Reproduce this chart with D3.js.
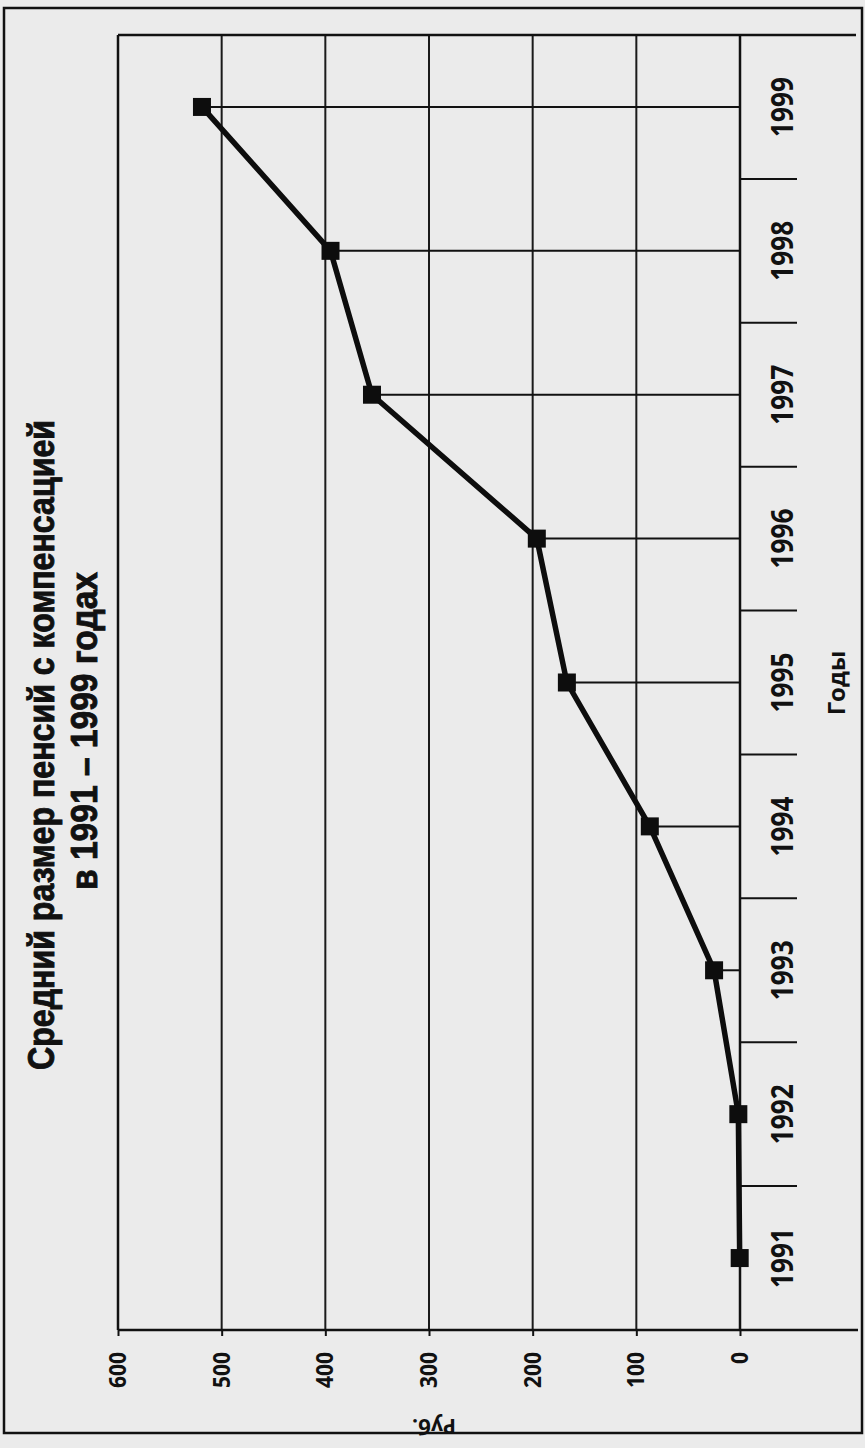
<!DOCTYPE html>
<html>
<head>
<meta charset="utf-8">
<script src="https://cdn.jsdelivr.net/npm/d3@7"></script>
<style>
  body { margin: 0; background: #ebebeb; }
  svg { display: block; }
  .lbl { font-family: "Open Sans", "Noto Sans", sans-serif; font-weight: bold; fill: #111; }
  .ttl { font-family: "Liberation Sans Narrow", "Liberation Sans", Arial, sans-serif; font-weight: bold; fill: #111; stroke: #111; stroke-width: 0.9px; }
</style>
</head>
<body>
<svg id="chart" width="865" height="1448"></svg>
<script>
// data
var years = ["1991","1992","1993","1994","1995","1996","1997","1998","1999"];
var pension = [0.3, 1.6, 25, 87, 167, 196, 355, 395, 519];
var valueTicks = [0, 100, 200, 300, 400, 500, 600];
var gridTicks = [100, 200, 300, 400, 500];
var title1 = "Средний размер пенсий с компенсацией";
var title2 = "в 1991 – 1999 годах";

var W = 865, H = 1448;
var svg = d3.select("#chart");
svg.append("rect").attr("width", W).attr("height", H).attr("fill", "#ebebeb");

// the printed chart is turned a quarter turn counter-clockwise, so draw it upright and rotate
var g = svg.append("g").attr("transform", "translate(0," + H + ") rotate(-90)");

var x = d3.scaleBand().domain(years).range([118, 1413]).padding(0);
var y = d3.scaleLinear().domain([0, 600]).range([740, 118]);
var bw = x.bandwidth();
var x0 = x.range()[0], x1 = x.range()[1];

// outer box
g.append("rect").attr("x", 15).attr("y", 4).attr("width", 1425).attr("height", 858)
  .attr("fill", "none").attr("stroke", "#111").attr("stroke-width", 2.5);

// grid
g.selectAll(".grid").data(gridTicks).enter().append("line")
  .attr("x1", x0).attr("x2", x1)
  .attr("y1", function(d){ return y(d); }).attr("y2", function(d){ return y(d); })
  .attr("stroke", "#1a1a1a").attr("stroke-width", 2);

// frame
g.append("line").attr("x1", x0).attr("x2", x1).attr("y1", y(600)).attr("y2", y(600))
  .attr("stroke", "#111").attr("stroke-width", 2.5);
g.append("line").attr("x1", x0).attr("x2", x0).attr("y1", y(600)).attr("y2", 858)
  .attr("stroke", "#111").attr("stroke-width", 2.5);
g.append("line").attr("x1", x1).attr("x2", x1).attr("y1", y(600)).attr("y2", 856)
  .attr("stroke", "#111").attr("stroke-width", 2.5);
g.append("line").attr("x1", x0).attr("x2", x1).attr("y1", y(0)).attr("y2", y(0))
  .attr("stroke", "#111").attr("stroke-width", 2.5);

// value axis
var ya = g.append("g").attr("transform", "translate(" + x0 + ",0)")
  .call(d3.axisLeft(y).tickValues(valueTicks).tickSize(6).tickPadding(16));
ya.select(".domain").remove();
ya.selectAll("line").attr("stroke", "#111").attr("stroke-width", 2);
ya.selectAll("text").attr("class", "lbl").style("font-size", "23px")
  .attr("textLength", function(d){ return String(d).length * 12; })
  .attr("lengthAdjust", "spacingAndGlyphs");

// year axis: labels in the middle, ticks between years
var xa = g.append("g").attr("transform", "translate(0," + y(0) + ")")
  .call(d3.axisBottom(x).tickSize(0));
xa.select(".domain").remove();
xa.selectAll("text").attr("class", "lbl").style("font-size", "30px")
  .attr("y", 53).attr("dy", 0)
  .attr("textLength", 60).attr("lengthAdjust", "spacingAndGlyphs");

g.selectAll(".ytick").data(years.slice(1)).enter().append("line")
  .attr("x1", function(d){ return x(d); }).attr("x2", function(d){ return x(d); })
  .attr("y1", y(0)).attr("y2", y(0) + 57)
  .attr("stroke", "#111").attr("stroke-width", 2);

// drop lines
var pts = years.map(function(d, i){ return { year: d, v: pension[i] }; });
g.selectAll(".drop").data(pts).enter().append("line")
  .attr("x1", function(d){ return x(d.year) + bw / 2; })
  .attr("x2", function(d){ return x(d.year) + bw / 2; })
  .attr("y1", function(d){ return y(d.v); }).attr("y2", y(0))
  .attr("stroke", "#111").attr("stroke-width", 2);

// series
var line = d3.line()
  .x(function(d){ return x(d.year) + bw / 2; })
  .y(function(d){ return y(d.v); });
g.append("path").datum(pts).attr("d", line)
  .attr("fill", "none").attr("stroke", "#0d0d0d").attr("stroke-width", 5.5)
  .attr("stroke-linejoin", "round");
g.selectAll(".mk").data(pts).enter().append("rect")
  .attr("x", function(d){ return x(d.year) + bw / 2 - 9; })
  .attr("y", function(d){ return y(d.v) - 9; })
  .attr("width", 18).attr("height", 18).attr("fill", "#0d0d0d");

// titles
g.append("text").attr("class", "ttl").attr("x", 703).attr("y", 54)
  .attr("text-anchor", "middle").style("font-size", "36px")
  .attr("textLength", 650).attr("lengthAdjust", "spacingAndGlyphs").text(title1);
g.append("text").attr("class", "ttl").attr("x", 717).attr("y", 97)
  .attr("text-anchor", "middle").style("font-size", "36px")
  .attr("textLength", 318).attr("lengthAdjust", "spacingAndGlyphs").text(title2);

g.append("text").attr("class", "lbl").attr("x", 765).attr("y", 845)
  .attr("text-anchor", "middle").style("font-size", "24px").text("Годы");
g.append("text").attr("class", "lbl")
  .attr("transform", "translate(22,434) rotate(-90)")
  .attr("text-anchor", "middle").attr("dy", "0.35em")
  .style("font-size", "21px").text("Руб.");
</script>
</body>
</html>
